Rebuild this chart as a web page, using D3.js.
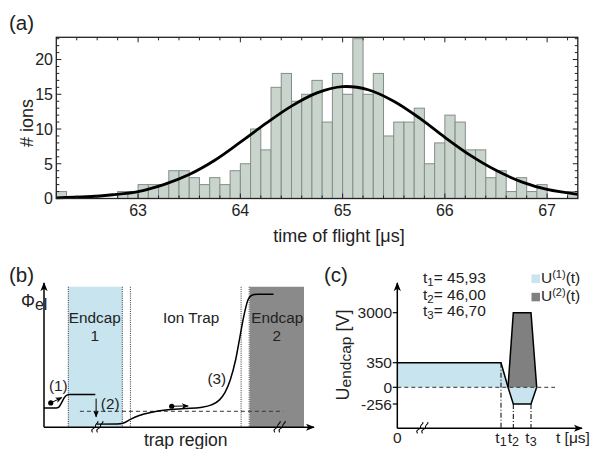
<!DOCTYPE html>
<html>
<head>
<meta charset="utf-8">
<script src="https://cdn.jsdelivr.net/npm/d3@7"></script>
<style>
  body { margin: 0; background: #fff; }
  svg { font-family: "Liberation Sans", Arial, sans-serif; }
</style>
</head>
<body>
<div id="chart"></div>
<script>
// ---- (a) histogram : time of flight ----
const binLo = [62.2, 62.3, 62.4, 62.5, 62.6, 62.7, 62.8, 62.9, 63.0, 63.1, 63.2, 63.3, 63.4, 63.5, 63.6, 63.7,
  63.8, 63.9, 64.0, 64.1, 64.2, 64.3, 64.4, 64.5, 64.6, 64.7, 64.8, 64.9, 65.0, 65.1, 65.2, 65.3, 65.4, 65.5,
  65.6, 65.7, 65.8, 65.9, 66.0, 66.1, 66.2, 66.3, 66.4, 66.5, 66.6, 66.7, 66.8, 66.9, 67.0, 67.1, 67.2]
const counts = [1, 0, 0, 0, 0, 0, 1, 1, 2, 2, 2, 4, 4, 3, 2, 3,
  2, 4, 5, 10, 7, 16, 18, 14, 15, 17, 11, 18, 15, 23, 15, 18, 9, 11,
  11, 13, 5, 8, 12, 11, 7, 7, 3, 4, 1, 3, 1, 2, 0, 0, 1]
const binWidth = 0.1

// fit curve
const fitX = [62.2, 62.5, 62.75, 63.0, 63.25, 63.5, 63.75, 64.0, 64.25, 64.5, 64.75, 65.0, 65.25, 65.5, 65.75, 66.0, 66.25, 66.5, 66.75, 67.0, 67.3]
const fitY = [0.09, 0.25, 0.54, 1.0, 2.0, 3.45, 5.5, 8.1, 10.8, 13.3, 15.2, 16.1, 15.65, 14.0, 11.6, 8.8, 6.2, 4.05, 2.4, 1.3, 0.6]

const xTicks = [63, 64, 65, 66, 67]
const yTicks = [0, 5, 10, 15, 20]

// ---- (b) schematic : potential along trap ----
const endcap1 = [9, 29]
const endcap2 = [76.2, 96.3]
const dottedAt = [9, 29, 32, 73, 76]
const pot1 = [[0, 13.4], [4.5, 13.4], [5.5, 14], [6.5, 17], [7.5, 20.5], [8.5, 22.3], [9.5, 22.7], [19, 22.7]]
const pot2 = [[19.5, 2.2], [27, 2.3], [29.5, 3], [32, 5.5], [35, 8], [40, 10.5], [45, 12], [52, 13], [58, 13.8],
  [62, 15.5], [65, 19], [67, 24], [69, 33], [71, 47], [72.5, 62], [74, 77], [75.5, 88], [77, 91.5], [79, 92.2], [85, 92.2]]
const dashLevel = 11.1
const bLabels = [
  { t: "Endcap", x: 18.8, y: 72 }, { t: "1", x: 18.8, y: 59.5 },
  { t: "Ion Trap", x: 54.5, y: 72 },
  { t: "Endcap", x: 86.4, y: 72 }, { t: "2", x: 86.2, y: 59.5 },
  { t: "(1)", x: 5.3, y: 25.5 }, { t: "(2)", x: 24.5, y: 13 }, { t: "(3)", x: 64, y: 30 }
]

// ---- (c) endcap voltages ----
const tNames = ["t1", "t2", "t3"]
const tVals = [45.93, 46.00, 46.70]
const u1 = [[0, 350], [45.93, 350], [45.97, 0], [46.00, -256], [46.70, -256], [46.80, 0]]
const u2 = [[45.97, 0], [46.00, 3000], [46.70, 3000], [46.80, 0]]
const uTicks = [3000, 350, 0, -256]

const svg = d3.select("#chart").append("svg")
  .attr("width", 594).attr("height", 449)

// ================= panel (a) =================
const x = d3.scaleLinear().domain([62.2, 67.3]).range([56.3, 577.8])
const y = d3.scaleLinear().domain([0, 23.2]).range([198.5, 37.3])

const gA = svg.append("g")

gA.selectAll("rect.bar")
  .data(counts.map((c, i) => ({ lo: binLo[i], c })).filter(d => d.c > 0))
  .join("rect")
  .attr("class", "bar")
  .attr("x", d => x(d.lo))
  .attr("y", d => y(d.c))
  .attr("width", d => x(d.lo + binWidth) - x(d.lo))
  .attr("height", d => y(0) - y(d.c))
  .attr("fill", "#c9d4cd")
  .attr("stroke", "#848e88")
  .attr("stroke-width", 1)

gA.append("path")
  .datum(fitX.map((v, i) => [v, fitY[i]]))
  .attr("d", d3.line().x(d => x(d[0])).y(d => y(d[1])).curve(d3.curveCatmullRom))
  .attr("fill", "none")
  .attr("stroke", "#000")
  .attr("stroke-width", 2.8)

// frame + ticks inside (mathematica style)
const [x0, x1] = x.range(), [y0, y1] = y.range()
const xMinor = d3.range(62.4, 67.3, 0.2).map(v => +v.toFixed(1))
const yMinor = d3.range(1, 24, 1)
const tk = gA.append("g").attr("stroke", "#222").attr("stroke-width", 1)
xMinor.forEach(v => {
  const len = xTicks.includes(v) ? 5 : 3
  tk.append("line").attr("x1", x(v)).attr("x2", x(v)).attr("y1", y0).attr("y2", y0 - len)
  tk.append("line").attr("x1", x(v)).attr("x2", x(v)).attr("y1", y1).attr("y2", y1 + len)
})
yMinor.forEach(v => {
  const len = yTicks.includes(v) ? 5 : 3
  tk.append("line").attr("y1", y(v)).attr("y2", y(v)).attr("x1", x0).attr("x2", x0 + len)
  tk.append("line").attr("y1", y(v)).attr("y2", y(v)).attr("x1", x1).attr("x2", x1 - len)
})
gA.append("rect")
  .attr("x", x0).attr("y", y1).attr("width", x1 - x0).attr("height", y0 - y1)
  .attr("fill", "none").attr("stroke", "#222").attr("stroke-width", 1.3)

gA.selectAll("text.xt").data(xTicks).join("text")
  .attr("x", d => x(d)).attr("y", 216)
  .attr("text-anchor", "middle").attr("font-size", 16).attr("fill", "#222")
  .text(d => d)
gA.selectAll("text.yt").data(yTicks).join("text")
  .attr("x", 53).attr("y", d => y(d) + 5.8)
  .attr("text-anchor", "end").attr("font-size", 16).attr("fill", "#222")
  .text(d => d)

gA.append("text").attr("x", 339).attr("y", 242).attr("text-anchor", "middle")
  .attr("font-size", 18).attr("fill", "#222").text("time of flight [μs]")
gA.append("text").attr("transform", "translate(33,123) rotate(-90)").attr("text-anchor", "middle")
  .attr("font-size", 18).attr("fill", "#222").text("# ions")
svg.append("text").attr("x", 9).attr("y", 30).attr("font-size", 20.5).attr("fill", "#222").text("(a)")

// ================= panel (b) =================
const bx = d3.scaleLinear().domain([0, 100]).range([44, 314])
const by = d3.scaleLinear().domain([0, 100]).range([427.3, 283])
const gB = svg.append("g")

gB.append("rect")
  .attr("x", bx(endcap1[0])).attr("y", by(97.4))
  .attr("width", bx(endcap1[1]) - bx(endcap1[0])).attr("height", by(0) - by(97.4))
  .attr("fill", "#c7e4ef")
gB.append("rect")
  .attr("x", bx(endcap2[0])).attr("y", by(97.4))
  .attr("width", bx(endcap2[1]) - bx(endcap2[0])).attr("height", by(0) - by(97.4))
  .attr("fill", "#8a8a8a")

gB.selectAll("line.dot").data(dottedAt).join("line")
  .attr("x1", d => bx(d)).attr("x2", d => bx(d))
  .attr("y1", by(97.4)).attr("y2", by(0))
  .attr("stroke", "#333").attr("stroke-width", 1).attr("stroke-dasharray", "1,1.2")

gB.append("line")
  .attr("x1", bx(13.3)).attr("x2", bx(88.6)).attr("y1", by(dashLevel)).attr("y2", by(dashLevel))
  .attr("stroke", "#333").attr("stroke-width", 1).attr("stroke-dasharray", "4,3")

const potLine = d3.line().x(d => bx(d[0])).y(d => by(d[1])).curve(d3.curveMonotoneX)
;[pot1, pot2].forEach(p => gB.append("path").datum(p).attr("d", potLine)
  .attr("fill", "none").attr("stroke", "#000").attr("stroke-width", 1.5))

// axes with arrows
svg.append("defs").append("marker")
  .attr("id", "arr").attr("viewBox", "0 0 10 10").attr("refX", 9).attr("refY", 5)
  .attr("markerWidth", 9).attr("markerHeight", 9).attr("markerUnits", "userSpaceOnUse")
  .attr("orient", "auto")
  .append("path").attr("d", "M0,1 L10,5 L0,9 L2.5,5 Z").attr("fill", "#000")
svg.select("defs").append("marker")
  .attr("id", "arrs").attr("viewBox", "0 0 10 10").attr("refX", 9).attr("refY", 5)
  .attr("markerWidth", 7).attr("markerHeight", 7).attr("markerUnits", "userSpaceOnUse")
  .attr("orient", "auto")
  .append("path").attr("d", "M0,1 L10,5 L0,9 L2.5,5 Z").attr("fill", "#000")

gB.append("line").attr("x1", bx(0)).attr("x2", bx(0)).attr("y1", by(0)).attr("y2", by(100))
  .attr("stroke", "#000").attr("stroke-width", 1.5).attr("marker-end", "url(#arr)")
gB.append("line").attr("x1", bx(0)).attr("x2", bx(100)).attr("y1", by(0)).attr("y2", by(0))
  .attr("stroke", "#000").attr("stroke-width", 1.5).attr("marker-end", "url(#arr)")

// arrow (2)
gB.append("line").attr("x1", bx(19.3)).attr("x2", bx(19.3)).attr("y1", by(19.9)).attr("y2", by(7.2))
  .attr("stroke", "#000").attr("stroke-width", 1).attr("marker-end", "url(#arrs)")

// ions
const ions = [{ p: [2.5, 16.9], to: [6.6, 20.6] }, { p: [47.3, 14.6], to: [53.4, 14.8] }]
ions.forEach(d => {
  gB.append("circle").attr("cx", bx(d.p[0])).attr("cy", by(d.p[1])).attr("r", 2.6).attr("fill", "#000")
  gB.append("line").attr("x1", bx(d.p[0])).attr("y1", by(d.p[1]))
    .attr("x2", bx(d.to[0])).attr("y2", by(d.to[1]))
    .attr("stroke", "#000").attr("stroke-width", 1).attr("marker-end", "url(#arrs)")
})

// axis breaks
const breakAt = (g, cx, cy) => {
  [-2.5, 2.5].forEach(dx => {
    g.append("path")
      .attr("d", `M${cx + dx - 3},${cy + 5} C${cx + dx - 6},${cy + 1} ${cx + dx + 1},${cy + 1} ${cx + dx},${cy - 1} S${cx + dx + 4},${cy - 5} ${cx + dx + 2},${cy - 6}`)
      .attr("fill", "none").attr("stroke", "#000").attr("stroke-width", 1.1)
  })
}
breakAt(gB, bx(20), by(0))
breakAt(gB, bx(87.5), by(0))

gB.selectAll("text.bl").data(bLabels).join("text")
  .attr("x", d => bx(d.x)).attr("y", d => by(d.y))
  .attr("text-anchor", "middle").attr("font-size", 15.3).attr("fill", "#222")
  .text(d => d.t)

gB.append("text").attr("x", bx(52.5)).attr("y", 446).attr("text-anchor", "middle")
  .attr("font-size", 17.5).attr("fill", "#222").text("trap region")
const phi = gB.append("text").attr("x", 21).attr("y", 307).attr("font-size", 17.5).attr("fill", "#222")
phi.append("tspan").text("Φ")
phi.append("tspan").attr("dy", 3).attr("font-size", 16).text("el")
svg.append("text").attr("x", 9).attr("y", 282).attr("font-size", 20.5).attr("fill", "#222").text("(b)")

// ================= panel (c) =================
const cx = d3.scaleLinear().domain([0, 45.93, 46.00, 46.70, 46.80, 47.1])
  .range([397.3, 501, 513.3, 531, 536.7, 555])
const cy = d3.scaleLinear().domain([-256, 0, 350, 3000]).range([404, 387.3, 362.7, 312.7])
const cAxisY = 428.3, cTop = 283
const gC = svg.append("g")

const area = d3.area().x(d => cx(d[0])).y0(cy(0)).y1(d => cy(d[1]))
gC.append("path").datum(u1).attr("d", area).attr("fill", "#c7e4ef")
gC.append("path").datum(u2).attr("d", area).attr("fill", "#808080")
const ul = d3.line().x(d => cx(d[0])).y(d => cy(d[1]))
gC.append("path").datum(u2).attr("d", ul).attr("fill", "none").attr("stroke", "#000").attr("stroke-width", 1.5)
gC.append("path").datum(u1).attr("d", ul).attr("fill", "none").attr("stroke", "#000").attr("stroke-width", 1.5)

gC.append("line").attr("x1", cx(0)).attr("x2", cx(47.1)).attr("y1", cy(0)).attr("y2", cy(0))
  .attr("stroke", "#333").attr("stroke-width", 1).attr("stroke-dasharray", "4,3")

// dash-dot droplines
const dropFrom = [350, -256, -256]
tVals.forEach((t, i) => {
  gC.append("line").attr("x1", cx(t)).attr("x2", cx(t)).attr("y1", cy(dropFrom[i])).attr("y2", cAxisY)
    .attr("stroke", "#000").attr("stroke-width", 1).attr("stroke-dasharray", "5,2,1,2")
})

gC.append("line").attr("x1", cx(0)).attr("x2", cx(0)).attr("y1", cAxisY).attr("y2", cTop)
  .attr("stroke", "#000").attr("stroke-width", 1.5).attr("marker-end", "url(#arr)")
gC.append("line").attr("x1", cx(0)).attr("x2", 582).attr("y1", cAxisY).attr("y2", cAxisY)
  .attr("stroke", "#000").attr("stroke-width", 1.5).attr("marker-end", "url(#arr)")
breakAt(gC, 423, cAxisY)

gC.selectAll("line.ut").data(uTicks).join("line")
  .attr("x1", cx(0) - 4.5).attr("x2", cx(0)).attr("y1", d => cy(d)).attr("y2", d => cy(d))
  .attr("stroke", "#000").attr("stroke-width", 1.2)
gC.selectAll("text.ut").data(uTicks).join("text")
  .attr("x", 392).attr("y", d => cy(d) + 5.5).attr("text-anchor", "end")
  .attr("font-size", 15.5).attr("fill", "#222").text(d => d)

gC.append("text").attr("x", cx(0)).attr("y", 443).attr("text-anchor", "middle")
  .attr("font-size", 15.5).attr("fill", "#222").text("0")
tVals.forEach((t, i) => {
  const tx = gC.append("text").attr("x", cx(t)).attr("y", 443).attr("text-anchor", "middle")
    .attr("font-size", 15.5).attr("fill", "#222")
  tx.append("tspan").text("t")
  tx.append("tspan").attr("dy", 3).attr("font-size", 12.5).text(tNames[i].slice(1))
})
gC.append("text").attr("x", 556).attr("y", 443).attr("font-size", 15.5).attr("fill", "#222").text("t [μs]")

const ulab = gC.append("text").attr("transform", "translate(349,355) rotate(-90)").attr("text-anchor", "middle")
  .attr("font-size", 18).attr("fill", "#222")
ulab.append("tspan").text("U")
ulab.append("tspan").attr("dy", 2).attr("font-size", 15.5).text("endcap")
ulab.append("tspan").attr("dy", -2).text(" [V]")

tVals.forEach((t, i) => {
  const tt = gC.append("text").attr("x", 423).attr("y", 283 + i * 16.5)
    .attr("font-size", 15.5).attr("fill", "#222")
  tt.append("tspan").text("t")
  tt.append("tspan").attr("dy", 3).attr("font-size", 11.5).text(tNames[i].slice(1))
  tt.append("tspan").attr("dy", -3).text("= " + t.toFixed(2).replace(".", ","))
})

const legend = [{ c: "#c7e4ef", n: "1" }, { c: "#808080", n: "2" }]
legend.forEach((d, i) => {
  const ly = 283 + i * 18.3
  gC.append("rect").attr("x", 531.5).attr("y", ly - 8.5).attr("width", 8.5).attr("height", 8.5).attr("fill", d.c)
  const lt = gC.append("text").attr("x", 541).attr("y", ly).attr("font-size", 15.5).attr("fill", "#222")
  lt.append("tspan").text("U")
  lt.append("tspan").attr("dy", -5).attr("font-size", 11).text("(" + d.n + ")")
  lt.append("tspan").attr("dy", 5).text("(t)")
})
svg.append("text").attr("x", 324).attr("y", 282).attr("font-size", 20.5).attr("fill", "#222").text("(c)")
</script>
</body>
</html>
